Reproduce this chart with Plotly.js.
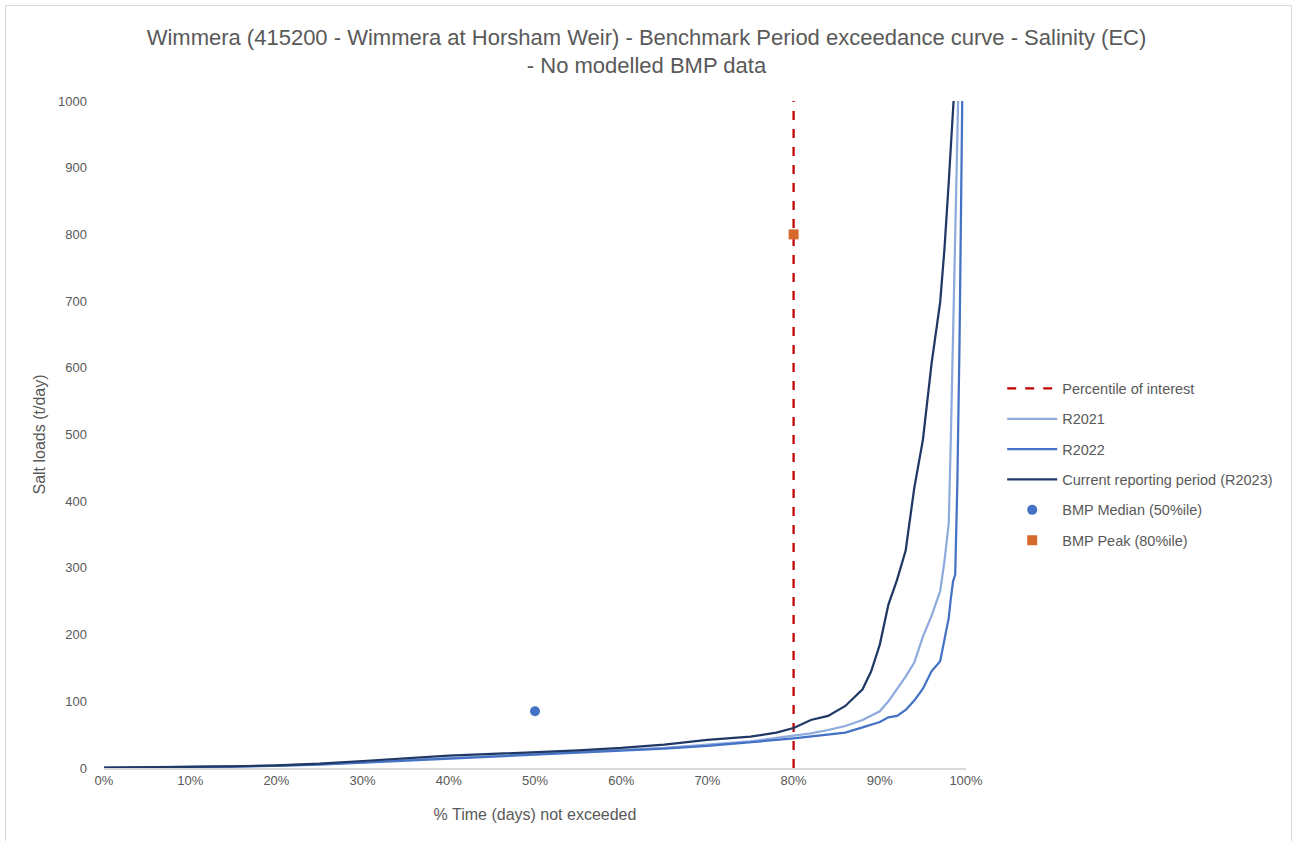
<!DOCTYPE html>
<html>
<head>
<meta charset="utf-8">
<script src="https://cdn.plot.ly/plotly-3.0.1.min.js"></script>
<style>
  html, body { margin: 0; padding: 0; background: #fff; }
  #chart { width: 1293px; height: 841px; }
  #frame { position: absolute; left: 5px; top: 5px; width: 1285px; height: 845px; border: 1px solid #D9D9D9; pointer-events: none; }
</style>
</head>
<body>
<div id="chart"></div>
<div id="frame"></div>
<script>
// % time not exceeded (x grid shared by the three curves)
const pctTime = [0, 5, 10, 15, 20, 25, 30, 35, 40, 45, 50, 55, 60, 65, 70, 75, 78, 80, 82, 84, 86, 88, 89, 90, 91, 92, 93, 94, 95, 96, 97, 97.5, 98, 98.25, 98.5, 98.75, 99, 99.25, 99.5, 99.75, 100];

const r2021 = [0.3, 0.8, 1.2, 2, 3.5, 5.5, 8.5, 12, 15, 18, 21, 23, 26, 30, 35, 40, 45, 48, 52, 57, 63, 72, 78, 85, 100, 118, 137, 158, 197, 228, 265, 310, 367, 500, 620, 755, 890, 1020, 1200, 1400, 1700];
const r2022 = [0.3, 0.7, 1.1, 1.8, 3, 5, 8, 11, 14, 17, 20, 22.5, 25, 29, 33, 38, 42, 44.5, 47, 50, 53, 61, 65, 69, 76, 78, 87, 101, 119, 145, 160, 190, 225, 255, 280, 290, 430, 640, 920, 1200, 1500];
const r2023 = [0.5, 1, 1.5, 2.5, 4, 6.5, 10.5, 15, 18.5, 21, 23.5, 26.5, 30, 35, 42, 47, 53, 60, 72, 78, 93, 118, 145, 185, 245, 282, 326, 420, 492, 606, 698, 778, 879, 930, 980, 1030, 1080, 1150, 1300, 1500, 1800];

const percentileX = [80, 80];
const percentileY = [0, 1000];
const bmpMedianX = [50];
const bmpMedianY = [85];
const bmpPeakX = [80];
const bmpPeakY = [800];

const xTickVals = [0, 10, 20, 30, 40, 50, 60, 70, 80, 90, 100];
const xTickText = ['0%', '10%', '20%', '30%', '40%', '50%', '60%', '70%', '80%', '90%', '100%'];
const yTickVals = [0, 100, 200, 300, 400, 500, 600, 700, 800, 900, 1000];

const FONT = 'Liberation Sans, Arial, sans-serif';
const GREY = '#595959';

const traces = [
  { x: percentileX, y: percentileY, mode: 'lines', name: 'Percentile of interest', legendgroup: 'g1',
    line: { color: '#C00000', width: 2.25, dash: 'dash' } },
  { x: pctTime, y: r2021, mode: 'lines', name: 'R2021', legendgroup: 'g2',
    line: { color: '#8FAADC', width: 2.25 } },
  { x: pctTime, y: r2022, mode: 'lines', name: 'R2022', legendgroup: 'g3',
    line: { color: '#4472C4', width: 2.25 } },
  { x: pctTime, y: r2023, mode: 'lines', name: 'Current reporting period (R2023)', legendgroup: 'g4',
    line: { color: '#203864', width: 2.25 } },
  { x: bmpMedianX, y: bmpMedianY, mode: 'markers', name: 'BMP Median (50%ile)', legendgroup: 'g5',
    marker: { color: '#4472C4', size: 10, symbol: 'circle' } },
  { x: bmpPeakX, y: bmpPeakY, mode: 'markers', name: 'BMP Peak (80%ile)', legendgroup: 'g6',
    marker: { color: '#D66A2A', size: 10, symbol: 'square' } }
];

const layout = {
  width: 1293, height: 841,
  paper_bgcolor: '#ffffff', plot_bgcolor: '#ffffff',
  margin: { l: 104, r: 327, t: 101, b: 73 },
  font: { family: FONT, color: GREY, size: 13 },
  title: {
    text: 'Wimmera (415200 - Wimmera at Horsham Weir) - Benchmark Period exceedance curve - Salinity (EC)<br>- No modelled BMP data',
    font: { family: FONT, size: 22, color: GREY },
    x: 0.5, xanchor: 'center', y: 0.947, yanchor: 'top'
  },
  xaxis: {
    range: [0, 100], tickvals: xTickVals, ticktext: xTickText,
    showgrid: false, zeroline: false,
    showline: true, linecolor: '#D9D9D9', linewidth: 1.5,
    ticks: '', tickfont: { size: 13, color: GREY },
    title: { text: '% Time (days) not exceeded', font: { size: 16, color: GREY }, standoff: 21 },
    fixedrange: true
  },
  yaxis: {
    range: [0, 1000], tickvals: yTickVals,
    showgrid: false, zeroline: false, showline: false,
    ticks: '', ticklabelstandoff: 16, tickfont: { size: 13, color: GREY },
    title: { text: 'Salt loads (t/day)', font: { size: 16, color: GREY }, standoff: 8 },
    fixedrange: true
  },
  showlegend: true,
  legend: {
    x: 1.042, xanchor: 'left', y: 0.455, yanchor: 'middle',
    font: { size: 14.5, color: GREY }, tracegroupgap: 8.5,
    itemwidth: 50, bgcolor: 'rgba(0,0,0,0)'
  }
};

Plotly.newPlot('chart', traces, layout, { staticPlot: true, displayModeBar: false });
</script>
</body>
</html>
